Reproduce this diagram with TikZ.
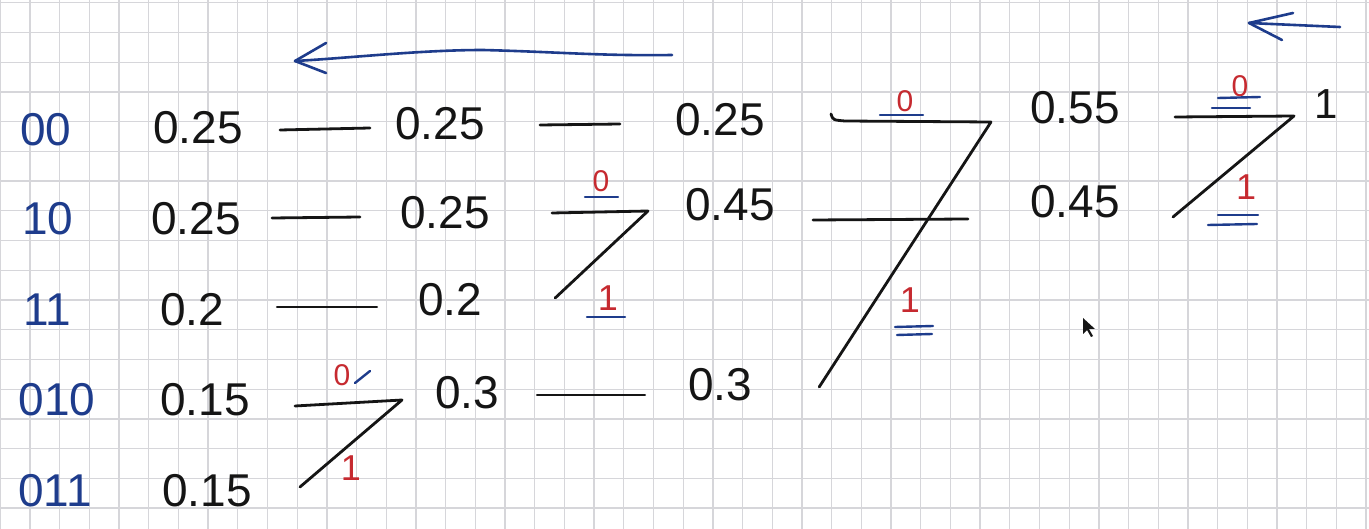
\documentclass[tikz,border=0pt]{standalone}
\usepackage{fontspec}
\setmainfont{Liberation Sans}
\usetikzlibrary{calc}
\definecolor{pen}{HTML}{151515}
\definecolor{ink}{HTML}{1E3C8C}
\definecolor{redink}{HTML}{C62A30}
\definecolor{gridc}{HTML}{D6D6DA}
\begin{document}
\begin{tikzpicture}[x=1pt,y=-1pt,
  val/.style={font=\fontsize{46}{46}\selectfont, text=pen, inner sep=0pt},
  code/.style={font=\fontsize{46}{46}\selectfont, text=ink, inner sep=0pt},
  bitz/.style={font=\fontsize{30}{30}\selectfont, text=redink, inner sep=0pt},
  bito/.style={font=\fontsize{36}{36}\selectfont, text=redink, inner sep=0pt},
  stroke/.style={draw=pen, line width=2.8pt, line cap=round, line join=round},
  uline/.style={draw=ink, line width=2.4pt, line cap=round},
  arr/.style={draw=ink, line width=2.6pt, line cap=round, line join=round}]
\fill[white] (0,0) rectangle (1369,529);
\useasboundingbox (0,0) rectangle (1369,529);
% grid paper
\foreach \i in {-1,...,45} \draw[gridc, line width=1.3pt] ({30+29.69*\i},0) -- ({30+29.69*\i},529);
\foreach \j in {0,...,17} \draw[gridc, line width=1.3pt] (0,{2.8+29.72*\j}) -- (1369,{2.8+29.72*\j});

% codes
\node[code] (c00) at (46,130) {00};
\node[code] (c10) at (48,219) {10};
\node[code] (c11) at (47,310) {11};
\node[code] (c010) at (57,400) {010};
\node[code] (c011) at (55,491) {011};

% column 1
\node[val] (a1) at (198,128) {0.25};
\node[val] (a2) at (196,219) {0.25};
\node[val] (a3) at (192,310) {0.2};
\node[val] (a4) at (205,400) {0.15};
\node[val] (a5) at (207,491) {0.15};
% column 2
\node[val] (b1) at (440,124) {0.25};
\node[val] (b2) at (445,213) {0.25};
\node[val] (b3) at (450,300) {0.2};
\node[val] (b4) at (467,393) {0.3};
% column 3
\node[val] (c1) at (720,120) {0.25};
\node[val] (c2) at (730,205) {0.45};
\node[val] (c3) at (720,385) {0.3};
% column 4
\node[val] (d1) at (1075,108) {0.55};
\node[val] (d2) at (1075,202) {0.45};
\node[font=\fontsize{42}{42}\selectfont, text=pen, inner sep=0pt] (e) at (1326,104) {1};

% straight carries
\draw[stroke] ([shift={(37,2)}]a1.east) -- ([shift={(-25,4)}]b1.west);
\draw[stroke] ([shift={(31,-1)}]a2.east) -- ([shift={(-40,4)}]b2.west);
\draw[stroke] ([shift={(53,-3)}]a3.east) -- ([shift={(-41,7)}]b3.west);
\draw[stroke] ([shift={(55,1)}]b1.east) -- ([shift={(-55,4)}]c1.west);
\draw[stroke] ([shift={(38,2)}]b4.east) -- ([shift={(-43,10)}]c3.west);

% merge 1
\coordinate (m1) at (402,400);
\draw[stroke] ([shift={(45,6)}]a4.east) -- (m1) -- ([shift={(48,-4)}]a5.east);
\node[bitz] (z1) at (342,375) {0};
\draw[uline] (355,383) -- (370,371);
\node[bito] (o1) at (351,468) {1};

% merge 2
\coordinate (m2) at (648,211);
\draw[stroke] ([shift={(62,0)}]b2.east) -- (m2) -- ([shift={(73,-2)}]b3.east);
\node[bitz] (z2) at (601,181) {0};
\draw[uline] (585,197) -- (618,197);
\node[bito] (o2) at (608,298) {1};
\draw[uline] (587,317) -- (625,317);

% merge 3
\coordinate (m3) at (991,122);
\draw[stroke] ([shift={(66,-6)}]c1.east) .. controls ([shift={(68,0)}]c1.east) .. ([shift={(80,1)}]c1.east) -- (m3) -- ([shift={(67,2)}]c3.east);
\coordinate (x3) at (968,219);
\draw[stroke] ([shift={(38,15)}]c2.east) -- (x3);
\node[bitz] (z3) at (905,101) {0};
\draw[uline] (880,115) -- (923,115);
\node[bito] (o3) at (910,300) {1};
\draw[uline] (895,327) -- (933,326);
\draw[uline] (897,335) -- (932,334);

% merge 4
\coordinate (m4) at (1294,116);
\draw[stroke] ([shift={(55,9)}]d1.east) -- (m4) -- ([shift={(53,15)}]d2.east);
\node[bitz] (z4) at (1240,86) {0};
\draw[uline] (1218,98) -- (1260,97);
\draw[uline] (1212,108) -- (1250,108);
\node[bito] (o4) at (1246,187) {1};
\draw[uline] (1218,215) -- (1258,215);
\draw[uline] (1208,225) -- (1257,224);

% direction arrows
\coordinate (L1) at (672,55);
\coordinate (L2) at (295,61);
\draw[arr] (L1) .. controls (600,56) and (560,52) .. (483,50) .. controls (420,50) and (350,58) .. (L2);
\draw[arr] (326,43) -- (L2) -- (326,73);
\coordinate (S1) at (1340,27);
\coordinate (S2) at (1249,23);
\draw[arr] (S1) -- (S2);
\draw[arr] (1293,13) -- (S2) -- (1282,40);

% mouse pointer
\fill[pen] (1083,318) -- (1083,334) -- (1087,330) -- (1091,337) -- (1093,336) -- (1089,329) -- (1095,329) -- cycle;
\end{tikzpicture}
\end{document}
